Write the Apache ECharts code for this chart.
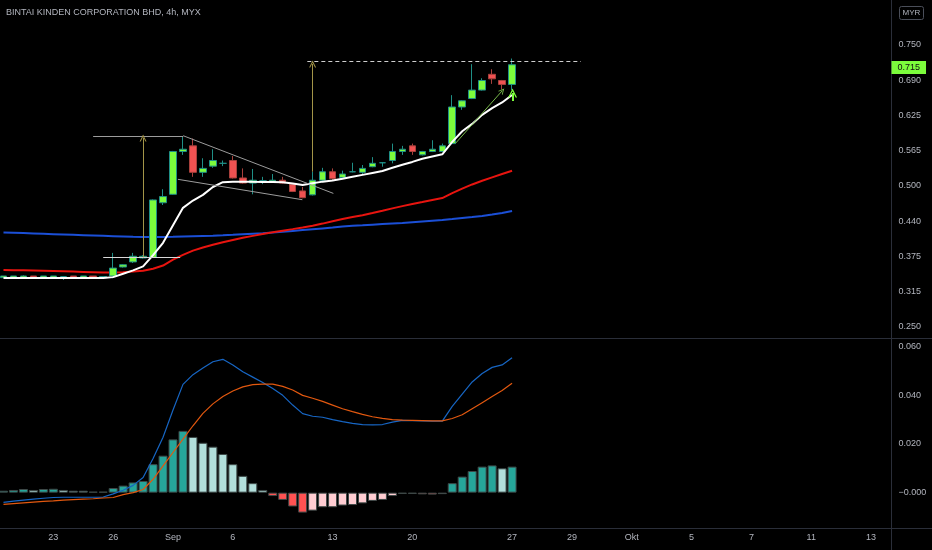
<!DOCTYPE html>
<html><head><meta charset="utf-8">
<script src="https://cdn.jsdelivr.net/npm/echarts@6/dist/echarts.min.js"></script>
<style>html,body{margin:0;padding:0;background:#000}#c{width:932px;height:550px}</style>
</head><body><div id="c"></div>
<script>
// ---- data ----
const title = 'BINTAI KINDEN CORPORATION BHD, 4h, MYX';
const currency = 'MYR';
const slotCount = 90; // bars + empty future slots
const tickIndex = [5, 11, 17, 23, 33, 41, 51, 57, 63, 69, 75, 81, 87];
const tickText = ['23', '26', 'Sep', '6', '13', '20', '27', '29', 'Okt', '5', '7', '11', '13'];
// [open, close, low, high]
const ohlc = [
  [0.337,0.340,0.337,0.340],[0.337,0.340,0.337,0.340],[0.337,0.340,0.337,0.341],[0.340,0.337,0.337,0.340],
  [0.337,0.340,0.337,0.340],[0.337,0.340,0.337,0.340],[0.339,0.339,0.333,0.340],[0.340,0.337,0.337,0.340],
  [0.337,0.340,0.337,0.340],[0.340,0.337,0.337,0.340],[0.337,0.339,0.337,0.339],[0.340,0.354,0.336,0.381],
  [0.356,0.360,0.355,0.361],[0.365,0.375,0.363,0.381],[0.372,0.375,0.371,0.377],[0.373,0.475,0.372,0.476],
  [0.470,0.481,0.466,0.494],[0.485,0.561,0.484,0.562],[0.561,0.565,0.555,0.587],[0.571,0.524,0.516,0.584],
  [0.524,0.531,0.516,0.549],[0.535,0.545,0.532,0.565],[0.540,0.540,0.535,0.545],[0.545,0.514,0.513,0.553],
  [0.514,0.505,0.504,0.531],[0.505,0.510,0.485,0.530],[0.509,0.509,0.503,0.516],[0.507,0.510,0.506,0.521],
  [0.510,0.505,0.504,0.516],[0.503,0.490,0.489,0.504],[0.491,0.479,0.478,0.498],[0.484,0.510,0.483,0.525],
  [0.510,0.525,0.509,0.532],[0.525,0.513,0.510,0.531],[0.515,0.521,0.512,0.527],[0.525,0.525,0.524,0.541],
  [0.524,0.531,0.519,0.537],[0.534,0.540,0.533,0.551],[0.541,0.541,0.534,0.542],[0.545,0.561,0.540,0.575],
  [0.561,0.565,0.555,0.571],[0.571,0.561,0.555,0.575],[0.555,0.561,0.554,0.562],[0.561,0.565,0.560,0.581],
  [0.561,0.571,0.560,0.575],[0.575,0.640,0.574,0.661],[0.640,0.651,0.635,0.652],[0.655,0.670,0.654,0.716],
  [0.670,0.687,0.669,0.691],[0.698,0.690,0.681,0.707],[0.687,0.680,0.671,0.688],[0.680,0.715,0.670,0.726]
];
const lastPrice = 0.715;
const emaFast = [.3365,.3365,.3365,.3365,.3365,.3365,.3365,.3365,.3365,.3365,.3365,
  .3380,.3440,.3500,.3570,.3770,.3990,.4300,.4610,.4740,.4840,.4980,.5065,
  .5074,.5075,.5072,.5070,.5068,.5063,.5040,.5015,.5045,.5075,.5095,.5125,.5160,.5195,.5230,.5265,.5320,.5375,.5425,.5480,.5520,.5560,
  .5780,.5970,.6100,.6260,.6380,.6480,.6613];
const emaMid = [.3505,.3503,.3500,.3497,.3493,.3489,.3484,.3478,.3472,.3466,.3460,
  .3460,.3468,.3478,.3494,.3530,.3585,.3690,.3775,.3850,.3905,.3955,.4000,
  .4040,.4078,.4112,.4145,.4175,.4205,.4232,.4262,.4293,.4330,.4372,.4410,.4446,.4480,.4518,.4558,.4600,.4640,.4677,.4712,.4748,.4784,
  .4870,.4950,.5025,.5090,.5150,.5210,.5269];
const emaSlow = [.4173,.4167,.4161,.4155,.4149,.4143,.4137,.4131,.4125,.4119,.4113,.4107,.4101,.4095,.4090,
  .4090,.4092,.4095,.4100,.4105,.4110,.4115,.4122,.4130,.4140,.4150,.4160,.4172,.4185,.4200,.4215,.4230,.4245,.4260,
  .4279,.4290,.4300,.4311,.4322,.4332,.4342,.4355,.4368,.4381,.4394,.4410,.4428,.4446,.4465,.4490,.4520,.4555];
const macdLine = [-0.0040,-0.0035,-0.0031,-0.0027,-0.0023,-0.0020,-0.0019,-0.0019,-0.0019,-0.0019,-0.0018,
  -0.0005,0.0010,0.0030,0.0062,0.0140,0.0228,0.0340,0.0445,0.0485,0.0512,0.0538,0.0548,
  0.0525,0.0497,0.0475,0.0453,0.0428,0.0400,0.0360,0.0325,0.0314,0.0310,0.0300,0.0292,0.0285,0.0280,0.0279,0.0280,0.0290,0.0297,0.0296,0.0295,0.0294,0.0294,
  0.0355,0.0405,0.0455,0.0490,0.0515,0.0525,0.0555];
const signalLine = [-0.0048,-0.0045,-0.0042,-0.0039,-0.0036,-0.0034,-0.0031,-0.0029,-0.0027,-0.0025,-0.0022,
  -0.0020,-0.0008,0.0000,0.0013,0.0055,0.0110,0.0165,0.0220,0.0275,0.0326,0.0365,0.0395,
  0.0418,0.0435,0.0444,0.0446,0.0446,0.0437,0.0422,0.0400,0.0388,0.0375,0.0360,0.0345,0.0333,0.0322,0.0312,0.0305,0.0300,0.0298,0.0297,0.0296,0.0295,0.0295,
  0.0305,0.0320,0.0345,0.0370,0.0395,0.0420,0.0450];
const histogram = [0.0008,0.0011,0.0015,0.0011,0.0015,0.0016,0.0011,0.0008,0.0008,0.0004,0.0004,
  0.0019,0.0029,0.0042,0.0048,0.0117,0.0152,0.0219,0.0254,
  0.0229,0.0205,0.0189,0.0159,0.0117,0.0069,0.0039,0.0011,
  -0.0014,-0.0030,-0.0057,-0.0082,-0.0074,-0.0060,-0.0060,-0.0053,-0.0051,-0.0044,-0.0034,-0.0030,-0.0014,-0.0005,-0.0005,-0.0007,-0.0008,-0.0006,
  0.0039,0.0066,0.0089,0.0107,0.0112,0.0100,0.0107];
// drawings: [barIndex1, price1, barIndex2, price2]
const grayLines = [[8.99,0.5872,18.02,0.5872],[18.02,0.5890,33.08,0.4866],[17.49,0.5116,29.97,0.4754]];
const whiteLines = [[10.0,0.3732,17.72,0.3732]];
const dashedLines = [[30.47,0.7204,57.9,0.7204]];
const oliveArrows = [[14.0,0.3732,14.0,0.5849],[31.0,0.5251,31.0,0.7163]];
const greenArrows = [[45.33,0.5755,50.02,0.6689]];
const signalArrows = [[51.05,0.6505,51.05,0.6650]];

// ---- chart ----
const slots = Array.from({length: slotCount}, (_, i) => 'b' + i);
const toSeg = arr => arr.map(s => ({coords: [[s[0], s[1]], [s[2], s[3]]]}));
const chevron = 'path://M0,10 L5,0 L10,10 L8.4,10 L5,3.2 L1.6,10 Z';
const textColor = '#b2b5be';
const font = "'Liberation Sans', Arial, sans-serif";
const sepColor = '#2a2e39';

const chart = echarts.init(document.getElementById('c'), null, {renderer: 'canvas'});
chart.setOption({
  backgroundColor: '#000000',
  animation: false,
  title: {text: title, left: 6, top: 8, padding: 0,
    textStyle: {color: textColor, fontSize: 9, fontWeight: 'normal', fontFamily: font}},
  grid: [
    {left: -1.5, right: 36, top: 0, bottom: 223.3, outerBoundsMode: 'none'},
    {left: -1.5, right: 36, top: 346.7, bottom: 8.7, outerBoundsMode: 'none'},
    {left: -1.5, right: 36, top: 518, height: 10, outerBoundsMode: 'none'}
  ],
  xAxis: [
    {gridIndex: 0, type: 'category', data: slots, boundaryGap: true, axisLine: {show: false}, axisTick: {show: false}, axisLabel: {show: false}, splitLine: {show: false}},
    {gridIndex: 0, type: 'value', min: -0.5, max: slotCount - 0.5, show: false},
    {gridIndex: 1, type: 'category', data: slots, boundaryGap: true, axisLine: {show: false}, axisTick: {show: false}, axisLabel: {show: false}, splitLine: {show: false}},
    {gridIndex: 2, type: 'category', data: slots, boundaryGap: true, axisLine: {show: false}, axisTick: {show: false}, splitLine: {show: false},
      axisLabel: {show: true, color: textColor, fontSize: 9, fontFamily: font, margin: 5,
        interval: (idx) => tickIndex.indexOf(idx) >= 0,
        formatter: (v, idx) => { const k = tickIndex.indexOf(idx); return k >= 0 ? tickText[k] : ''; }}}
  ],
  yAxis: [
    {gridIndex: 0, type: 'value', position: 'right', min: 0.25, max: 0.8299, interval: 0.0625, scale: true,
      axisLine: {show: false}, axisTick: {show: false}, splitLine: {show: false},
      axisLabel: {color: textColor, fontSize: 9, fontFamily: font, margin: 2.5,
        formatter: v => v > 0.76 ? '' : (Math.round(v * 200 + 1e-9) / 200).toFixed(3)}},
    {gridIndex: 1, type: 'value', position: 'right', min: -0.02, max: 0.06, interval: 0.02,
      axisLine: {show: false}, axisTick: {show: false}, splitLine: {show: false},
      axisLabel: {color: textColor, fontSize: 9, fontFamily: font, margin: 2.5,
        formatter: v => v < -0.01 ? '' : (Math.abs(v) < 1e-9 ? '\u22120.000' : v.toFixed(3))}},
    {gridIndex: 2, type: 'value', show: false}
  ],
  graphic: [
    {type: 'line', silent: true, shape: {x1: 0, y1: 338.5, x2: 932, y2: 338.5}, style: {stroke: sepColor, lineWidth: 1}},
    {type: 'line', silent: true, shape: {x1: 0, y1: 528.5, x2: 932, y2: 528.5}, style: {stroke: sepColor, lineWidth: 1}},
    {type: 'line', silent: true, shape: {x1: 891.5, y1: 0, x2: 891.5, y2: 550}, style: {stroke: sepColor, lineWidth: 1}},
    {type: 'rect', silent: true, shape: {x: 899.5, y: 6.5, width: 24, height: 13, r: 2}, style: {fill: 'none', stroke: '#4a4e59', lineWidth: 1}},
    {type: 'text', silent: true, x: 911.5, y: 13, style: {text: currency, fill: textColor, font: "8px 'Liberation Sans', Arial, sans-serif", textAlign: 'center', textVerticalAlign: 'middle'}}
  ],
  series: [
    {type: 'line', xAxisIndex: 0, yAxisIndex: 0, data: emaSlow, showSymbol: false, symbol: 'none', z: 3,
      lineStyle: {color: '#1b4fd6', width: 2}},
    {type: 'line', xAxisIndex: 0, yAxisIndex: 0, data: emaMid, showSymbol: false, symbol: 'none', z: 3,
      lineStyle: {color: '#e8140f', width: 2}},
    {type: 'candlestick', xAxisIndex: 0, yAxisIndex: 0, data: ohlc, barWidth: 7, z: 4,
      itemStyle: {color: '#7cfc3c', color0: '#f05252', borderColor: '#1f8f86', borderColor0: '#a8403c', borderColorDoji: '#1f8f86', borderWidth: 1},
      markLine: {silent: true, symbol: 'none', animation: false,
        lineStyle: {color: 'rgba(0,0,0,0)', width: 0},
        label: {show: true, position: 'end', distance: -4.5, formatter: lastPrice.toFixed(3),
          backgroundColor: '#7cfc3c', color: '#111', fontSize: 9, fontFamily: font, padding: [2, 6, 2, 6]},
        data: [{yAxis: lastPrice}]}},
    {type: 'line', xAxisIndex: 0, yAxisIndex: 0, data: emaFast, showSymbol: false, symbol: 'none', z: 5,
      lineStyle: {color: '#ffffff', width: 2}},
    {type: 'lines', coordinateSystem: 'cartesian2d', xAxisIndex: 1, yAxisIndex: 0, silent: true, z: 6,
      symbol: 'none', lineStyle: {color: '#9c9c9c', width: 1, opacity: 1}, data: toSeg(grayLines)},
    {type: 'lines', coordinateSystem: 'cartesian2d', xAxisIndex: 1, yAxisIndex: 0, silent: true, z: 6,
      symbol: 'none', lineStyle: {color: '#d8d8d8', width: 1, opacity: 1}, data: toSeg(whiteLines)},
    {type: 'lines', coordinateSystem: 'cartesian2d', xAxisIndex: 1, yAxisIndex: 0, silent: true, z: 6,
      symbol: 'none', lineStyle: {color: '#cfcfcf', width: 1, type: [4, 3], opacity: 1}, data: toSeg(dashedLines)},
    {type: 'lines', coordinateSystem: 'cartesian2d', xAxisIndex: 1, yAxisIndex: 0, silent: true, z: 6,
      symbol: ['none', chevron], symbolSize: 7, lineStyle: {color: '#a39548', width: 1, opacity: 1},
      itemStyle: {color: '#a39548'}, data: toSeg(oliveArrows)},
    {type: 'lines', coordinateSystem: 'cartesian2d', xAxisIndex: 1, yAxisIndex: 0, silent: true, z: 6,
      symbol: ['none', chevron], symbolSize: 6, lineStyle: {color: '#77b84a', width: 1, opacity: 1},
      data: toSeg(greenArrows)},
    {type: 'lines', coordinateSystem: 'cartesian2d', xAxisIndex: 1, yAxisIndex: 0, silent: true, z: 6,
      symbol: ['none', chevron], symbolSize: 9, lineStyle: {color: '#7cfc3c', width: 2, opacity: 1},
      data: toSeg(signalArrows)},
    {type: 'bar', xAxisIndex: 2, yAxisIndex: 1, data: histogram, barWidth: 9, z: 2,
      itemStyle: {borderColor: '#3d4847', borderWidth: 1,
        color: p => {
          const v = p.value, prev = p.dataIndex > 0 ? histogram[p.dataIndex - 1] : -Infinity;
          if (v >= 0) return v > prev ? '#26a69a' : '#b2dfdb';
          return v < prev ? '#ff5252' : '#ffcdd2';
        }}},
    {type: 'line', xAxisIndex: 2, yAxisIndex: 1, data: macdLine, showSymbol: false, symbol: 'none', z: 3,
      lineStyle: {color: '#1766c4', width: 1.2}},
    {type: 'line', xAxisIndex: 2, yAxisIndex: 1, data: signalLine, showSymbol: false, symbol: 'none', z: 3,
      lineStyle: {color: '#e2580f', width: 1.2}}
  ]
});
</script></body></html>
